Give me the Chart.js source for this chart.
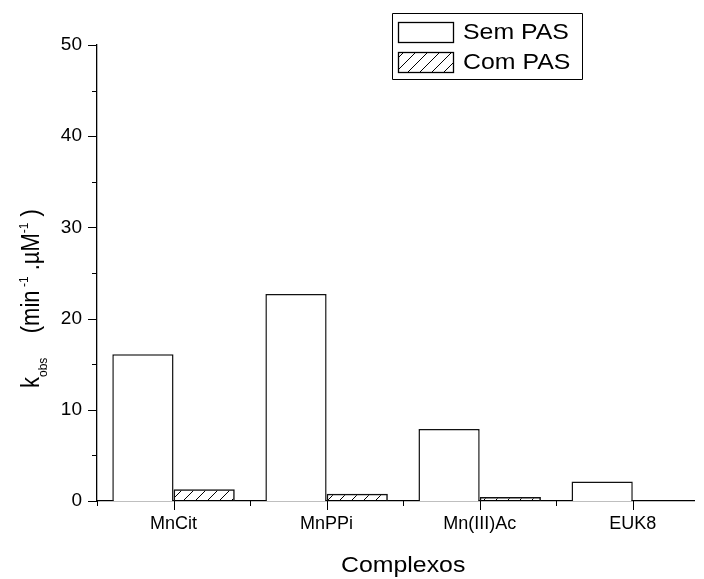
<!DOCTYPE html>
<html>
<head>
<meta charset="utf-8">
<script src="https://cdn.jsdelivr.net/npm/chart.js@4/dist/chart.umd.min.js"></script>
<style>
  html, body { margin: 0; padding: 0; background: #fff; }
  canvas { display: block; }
</style>
</head>
<body>
<canvas id="c" width="704" height="579"></canvas>
<script>
// Complexes measured, and observed rate constants without / with PAS
const categories = ['MnCit', 'MnPPi', 'Mn(III)Ac', 'EUK8'];
const semPAS = [16.1, 22.7, 7.9, 2.15];
const comPAS = [1.3, 0.8, 0.45, 0];
const seriesNames = ['Sem PAS', 'Com PAS'];
const yTicks = [0, 10, 20, 30, 40, 50];

const FONT = '"Liberation Sans", Arial, Helvetica, sans-serif';
const STRETCH = 1.13; // slightly wide lettering for the large texts

// Diagonal hatch fill for the "Com PAS" bars
function makeHatch() {
  const s = 12;
  const p = document.createElement('canvas');
  p.width = s; p.height = s;
  const g = p.getContext('2d');
  g.strokeStyle = '#000';
  g.lineWidth = 1;
  g.beginPath();
  g.moveTo(0, s); g.lineTo(s, 0);
  g.moveTo(-s / 2, s / 2); g.lineTo(s / 2, -s / 2);
  g.moveTo(s / 2, s * 1.5); g.lineTo(s * 1.5, s / 2);
  g.stroke();
  return document.getElementById('c').getContext('2d').createPattern(p, 'repeat');
}
const hatch = makeHatch();

function stretchedText(ctx, text, x, y, size, align) {
  ctx.save();
  ctx.font = size + 'px ' + FONT;
  ctx.translate(x, y);
  ctx.scale(STRETCH, 1);
  ctx.textAlign = align || 'left';
  ctx.fillText(text, 0, 0);
  ctx.restore();
}

// zero-height bars get no outline
const outline = c => (c.raw && c.raw.y === 0 ? 0 : 1.5);

// Tick marks, axis titles and the boxed legend
const decorations = {
  id: 'decorations',
  afterDraw(chart) {
    const ctx = chart.ctx;
    const xs = chart.scales.x, ys = chart.scales.y;
    const left = chart.chartArea.left, bottom = chart.chartArea.bottom;
    ctx.save();
    ctx.strokeStyle = '#000';
    ctx.lineWidth = 1;
    ctx.beginPath();
    for (let v = 0; v <= 50; v += 5) {
      const y = Math.round(ys.getPixelForValue(v)) + 0.5;
      const len = v % 10 === 0 ? 9 : 5;
      ctx.moveTo(left, y); ctx.lineTo(left - len, y);
    }
    for (let v = 0.5; v <= 4; v += 0.5) {
      const x = Math.round(xs.getPixelForValue(v)) + 0.5;
      const len = Number.isInteger(v) ? 9 : 5;
      ctx.moveTo(x, bottom); ctx.lineTo(x, bottom + len);
    }
    ctx.stroke();

    ctx.fillStyle = '#000';
    ctx.textBaseline = 'alphabetic';
    // x-axis title
    stretchedText(ctx, 'Complexos', xs.getPixelForValue(2.5), 572, 22, 'center');

    // y-axis title, reading upwards, with sub- and superscripts
    ctx.save();
    ctx.translate(39, 388);
    ctx.scale(STRETCH, 1);
    ctx.rotate(-Math.PI / 2);
    const parts = [
      ['k', 22, 0],
      ['obs', 12, 7],
      ['    (min', 22, 0],
      [' -1', 12, -10],
      [' .\u00B5M', 22, 0],
      ['-1', 12, -10],
      [' )', 22, 0]
    ];
    let px = 0;
    for (const [t, sz, dy] of parts) {
      ctx.font = sz + 'px ' + FONT;
      ctx.fillText(t, px, dy);
      px += ctx.measureText(t).width;
    }
    ctx.restore();

    // legend
    ctx.beginPath();
    ctx.rect(392.5, 13.5, 190, 66);
    ctx.stroke();
    ctx.lineWidth = 1.3;
    ctx.fillStyle = '#fff';
    ctx.fillRect(398.5, 22.5, 55, 20);
    ctx.strokeRect(398.5, 22.5, 55, 20);
    ctx.fillStyle = hatch;
    ctx.fillRect(398.5, 52.5, 55, 20);
    ctx.strokeRect(398.5, 52.5, 55, 20);
    ctx.fillStyle = '#000';
    ctx.textBaseline = 'middle';
    stretchedText(ctx, seriesNames[0], 463, 33, 22);
    stretchedText(ctx, seriesNames[1], 463, 63, 22);
    ctx.restore();
  }
};

new Chart(document.getElementById('c'), {
  type: 'bar',
  data: {
    datasets: [
      {
        label: seriesNames[0],
        data: categories.map((c, i) => ({ x: i + 1, y: semPAS[i] })),
        backgroundColor: '#fff',
        borderColor: '#111',
        borderWidth: outline,
        categoryPercentage: 0.8,
        barPercentage: 1
      },
      {
        label: seriesNames[1],
        data: categories.map((c, i) => ({ x: i + 1, y: comPAS[i] })),
        backgroundColor: hatch,
        borderColor: '#111',
        borderWidth: outline,
        categoryPercentage: 0.8,
        barPercentage: 1
      }
    ]
  },
  options: {
    responsive: false,
    animation: false,
    devicePixelRatio: 1,
    layout: { padding: { top: 45, right: 10, left: 0, bottom: 0 } },
    plugins: { legend: { display: false }, tooltip: { enabled: false }, title: { display: false } },
    scales: {
      x: {
        type: 'linear',
        min: 0.5,
        max: 4.4,
        offset: false,
        grid: { display: false, drawTicks: false, offset: false },
        border: { display: true, color: '#000', width: 1.3 },
        afterBuildTicks: s => { s.ticks = categories.map((c, i) => ({ value: i + 1 })); },
        afterFit: s => { s.height = 78; },
        ticks: {
          autoSkip: false,
          maxRotation: 0,
          padding: 12,
          color: '#000',
          font: { family: FONT, size: 18 },
          callback: v => categories[v - 1]
        }
      },
      y: {
        min: 0,
        max: 50,
        grid: { display: false, drawTicks: false },
        border: { display: true, color: '#000', width: 1.3 },
        afterBuildTicks: s => { s.ticks = yTicks.map(v => ({ value: v })); },
        afterFit: s => { s.width = 97; },
        ticks: {
          padding: 15,
          color: '#000',
          font: { family: FONT, size: 19 }
        }
      }
    }
  },
  plugins: [decorations]
});
</script>
</body>
</html>
